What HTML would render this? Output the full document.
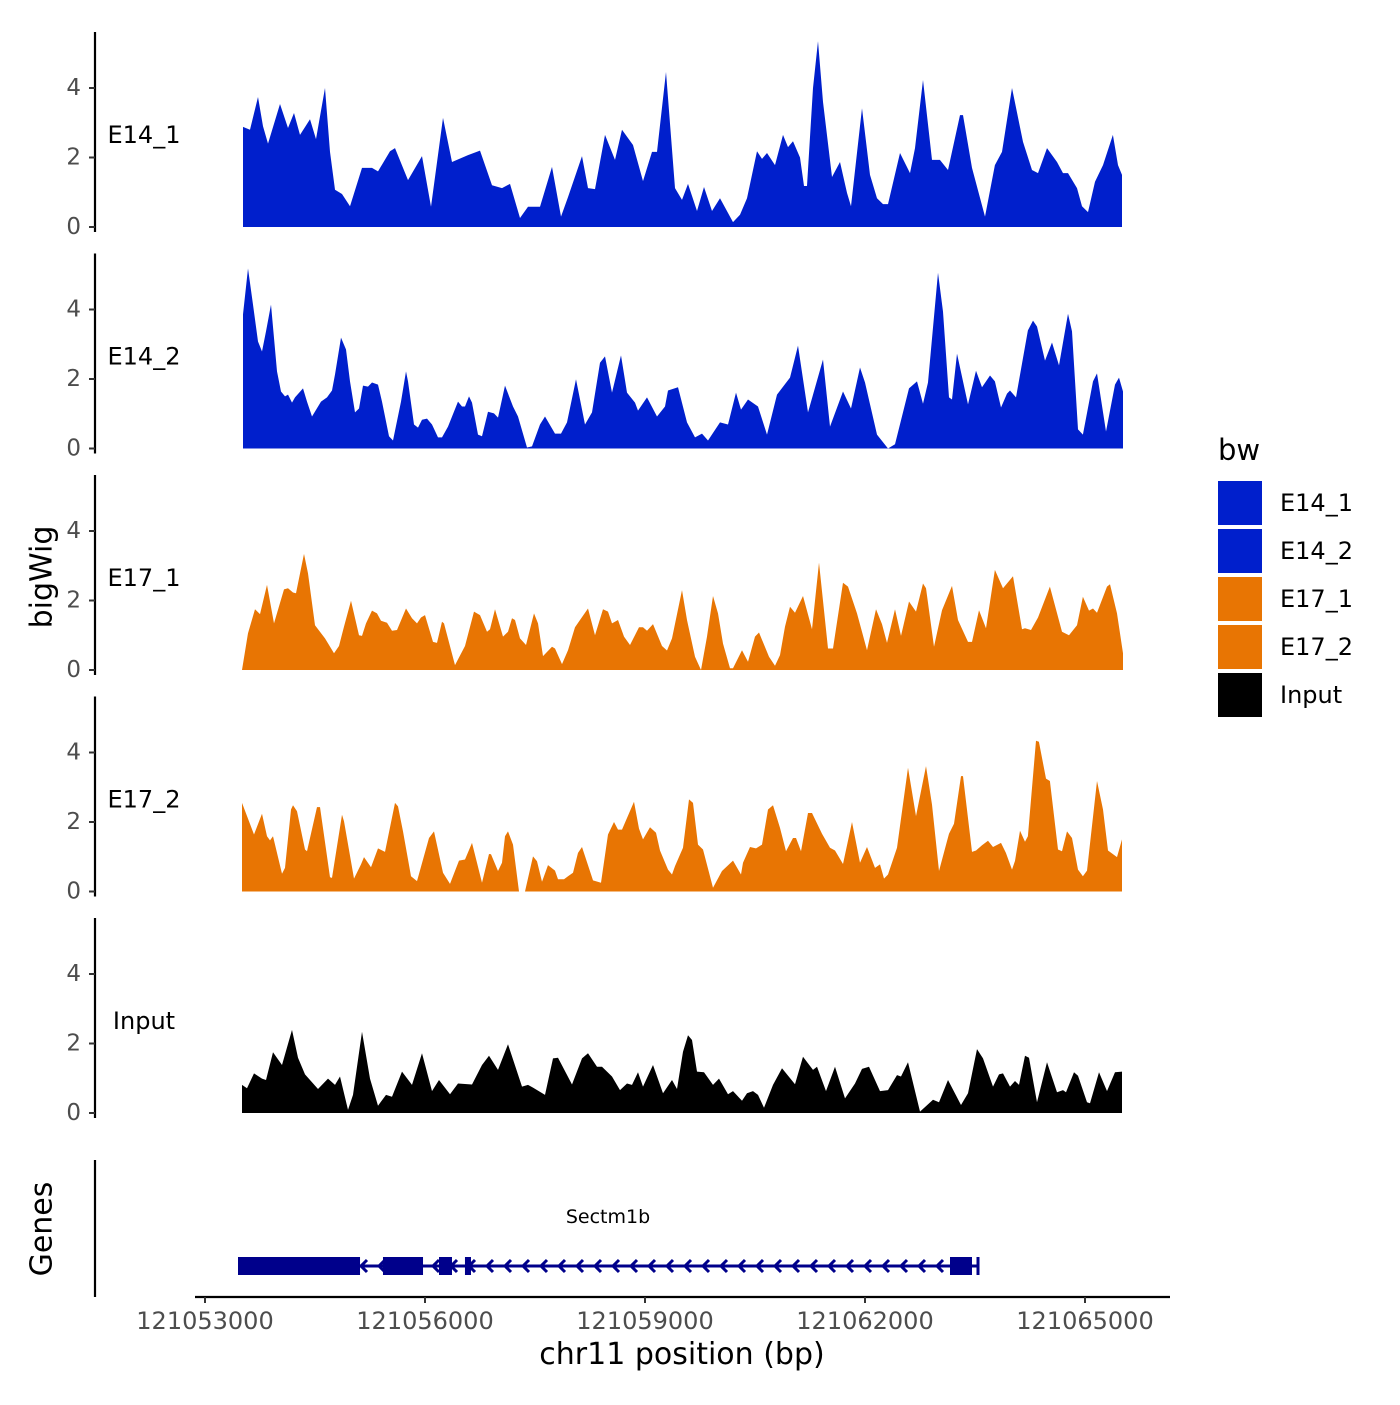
<!DOCTYPE html>
<html><head><meta charset="utf-8">
<style>
html,body{margin:0;padding:0;background:#fff;}
svg text{font-family:"DejaVu Sans","Liberation Sans",sans-serif;}
</style></head>
<body>
<svg id="chart" width="1400" height="1400" viewBox="0 0 1400 1400" xmlns="http://www.w3.org/2000/svg">
<rect width="1400" height="1400" fill="#fff"/>
<g id="tracks"></g>
<g id="genes"></g>
<g id="xaxis"></g>
<text x="42" y="577" font-size="30" text-anchor="middle" dominant-baseline="central" transform="rotate(-90 42 577)">bigWig</text>
<text x="42" y="1229" font-size="30" text-anchor="middle" dominant-baseline="central" transform="rotate(-90 42 1229)">Genes</text>
<text x="682" y="1364" font-size="30" text-anchor="middle">chr11 position (bp)</text>
<g id="legend">
<text x="1218" y="460" font-size="29">bw</text>
</g>
</svg>
<script>
const regionStart = 121053000;
const trackNames = ["E14_1","E14_2","E17_1","E17_2","Input"];
const trackColors = ["#001FCC","#001FCC","#E87503","#E87503","#000000"];
const xTicks = [121053000,121056000,121059000,121062000,121065000];
const yTicks = [0,2,4];

const pos1 = [518,614,723,791,859,1023,1132,1214,1295,1432,1514,1636,1705,1773,1868,1977,2141,2277,2359,2523,2591,2768,2959,3082,3245,3368,3586,3750,3914,4050,4159,4295,4404,4568,4732,4854,4950,5141,5223,5318,5454,5591,5686,5836,5973,6095,6164,6286,6409,6504,6586,6709,6804,6913,7023,7200,7295,7391,7527,7595,7664,7773,7882,7950,8018,8114,8168,8209,8291,8359,8427,8550,8659,8754,8809,8959,9068,9163,9245,9313,9477,9613,9682,9791,9913,10022,10132,10295,10336,10459,10636,10772,10868,11004,11154,11277,11359,11482,11618,11700,11768,11891,11959,12041,12136,12245,12381,12450,12504];
const val1 = [2.88,2.8,3.74,2.9,2.4,3.54,2.85,3.28,2.65,3.1,2.53,4.0,2.16,1.07,0.95,0.6,1.7,1.7,1.6,2.18,2.27,1.35,2.04,0.58,3.14,1.87,2.07,2.2,1.2,1.12,1.24,0.26,0.58,0.58,1.73,0.3,0.86,2.04,1.12,1.09,2.65,1.93,2.8,2.36,1.32,2.16,2.16,4.46,1.12,0.78,1.24,0.46,1.15,0.46,0.83,0.14,0.35,0.83,2.18,1.96,2.13,1.78,2.65,2.3,2.47,2.0,1.18,1.18,4.0,5.35,3.6,1.44,1.87,0.98,0.6,3.42,1.5,0.83,0.66,0.66,2.13,1.55,2.27,4.23,1.93,1.93,1.64,3.22,3.22,1.7,0.3,1.78,2.16,4.0,2.45,1.64,1.55,2.27,1.87,1.55,1.55,1.12,0.6,0.43,1.3,1.78,2.65,1.78,1.5];

const pos2 = [518,586,655,723,777,832,900,982,1036,1091,1132,1186,1227,1336,1391,1459,1582,1664,1732,1773,1855,1923,1977,2045,2100,2155,2223,2277,2359,2414,2509,2564,2673,2741,2768,2850,2905,2959,3027,3095,3177,3232,3314,3450,3505,3545,3600,3641,3723,3777,3859,3941,3995,4091,4200,4268,4391,4459,4568,4636,4773,4854,4936,5059,5182,5277,5386,5454,5550,5673,5754,5864,5904,6027,6164,6273,6313,6450,6573,6682,6777,6859,7023,7132,7241,7309,7404,7541,7664,7800,7977,8086,8223,8427,8523,8700,8809,8932,9000,9163,9313,9409,9600,9709,9791,9859,9995,10063,10145,10186,10254,10404,10513,10595,10704,10772,10854,10936,10977,11059,11222,11291,11345,11454,11550,11645,11768,11823,11904,11972,12109,12163,12286,12409,12463,12518];
const val2 = [3.86,5.18,4.14,3.08,2.79,3.37,4.14,2.22,1.64,1.5,1.55,1.32,1.47,1.73,1.35,0.92,1.35,1.47,1.67,2.13,3.19,2.85,1.93,1.04,1.15,1.81,1.78,1.9,1.84,1.35,0.35,0.23,1.35,2.22,1.93,0.69,0.6,0.83,0.86,0.69,0.32,0.32,0.63,1.35,1.21,1.21,1.5,1.32,0.4,0.35,1.06,1.01,0.89,1.81,1.21,0.92,0.03,0.06,0.69,0.92,0.43,0.43,0.75,1.99,0.69,1.04,2.47,2.65,1.61,2.68,1.61,1.32,1.09,1.47,0.92,1.21,1.67,1.76,0.75,0.32,0.43,0.23,0.75,0.69,1.61,1.12,1.41,1.21,0.4,1.55,2.04,2.96,1.04,2.56,0.63,1.64,1.15,2.33,1.9,0.4,0,0.12,1.73,1.93,1.29,1.9,5.06,3.94,1.47,1.41,2.73,1.27,2.24,1.76,2.1,1.93,1.18,1.58,1.67,1.47,3.4,3.68,3.51,2.53,3.05,2.39,3.88,3.37,0.55,0.4,1.93,2.16,0.49,1.84,2.04,1.64];

const pos3 = [505,586,682,750,845,941,1077,1132,1200,1241,1350,1405,1500,1636,1759,1827,1895,1991,2100,2141,2195,2277,2345,2400,2482,2550,2618,2741,2823,2891,2945,3000,3109,3164,3232,3259,3409,3545,3668,3750,3845,3886,3954,4064,4132,4186,4227,4295,4377,4486,4541,4609,4732,4773,4868,4950,5045,5114,5223,5318,5427,5495,5550,5632,5714,5795,5918,5973,6027,6109,6232,6300,6368,6504,6573,6682,6763,6845,6927,6995,7063,7159,7200,7323,7404,7500,7554,7691,7773,7841,7909,7977,8045,8154,8277,8373,8495,8563,8700,8768,8891,9027,9150,9232,9300,9409,9491,9600,9695,9791,9832,9941,10050,10186,10268,10404,10459,10554,10650,10772,10882,11018,11141,11182,11263,11359,11522,11686,11782,11891,11972,12054,12109,12163,12300,12341,12436,12518];
const val3 = [0,1.06,1.75,1.61,2.45,1.34,2.32,2.35,2.23,2.21,3.34,2.78,1.29,0.91,0.48,0.69,1.25,1.99,1.0,0.98,1.34,1.71,1.63,1.42,1.36,1.13,1.15,1.77,1.49,1.34,1.51,1.58,0.81,0.78,1.39,1.34,0.14,0.69,1.68,1.58,1.1,1.17,1.75,0.96,1.1,1.49,1.44,0.91,0.72,1.63,1.34,0.4,0.67,0.62,0.17,0.57,1.23,1.44,1.77,1.0,1.75,1.68,1.34,1.44,0.96,0.72,1.23,1.23,1.13,1.32,0.69,0.56,0.91,2.3,1.44,0.38,0,0.96,2.13,1.63,0.76,0.05,0.05,0.57,0.24,0.96,1.08,0.38,0.12,0.43,1.25,1.82,1.65,2.13,1.17,3.09,0.62,0.62,2.51,2.4,1.63,0.57,1.75,1.32,0.78,1.75,0.98,1.97,1.68,2.49,2.35,0.67,1.72,2.42,1.44,0.81,0.81,1.72,1.2,2.88,2.35,2.7,1.17,1.2,1.15,1.51,2.4,1.1,1.0,1.29,2.11,1.71,1.77,1.65,2.4,2.47,1.63,0.48];

const pos4 = [505,668,777,845,886,927,1050,1091,1173,1200,1255,1364,1391,1527,1568,1705,1732,1868,1895,2032,2127,2168,2264,2359,2455,2591,2632,2700,2809,2891,3055,3123,3245,3341,3464,3545,3641,3777,3873,3900,3995,4050,4091,4132,4200,4282,4364,4473,4527,4595,4677,4773,4814,4895,4950,5018,5086,5141,5291,5400,5495,5577,5632,5686,5850,5918,5973,6068,6150,6204,6313,6368,6409,6518,6600,6654,6723,6791,6927,7050,7200,7309,7336,7432,7513,7595,7677,7745,7841,7923,8018,8059,8127,8223,8277,8414,8523,8591,8700,8823,8932,9027,9136,9204,9259,9313,9436,9586,9695,9832,9913,10009,10118,10145,10213,10309,10336,10459,10513,10595,10677,10745,10854,10922,11004,11045,11113,11182,11222,11332,11372,11468,11522,11632,11686,11754,11823,11904,11972,12027,12163,12245,12314,12436,12504];
const val4 = [2.55,1.64,2.24,1.59,1.47,1.59,0.51,0.68,2.36,2.48,2.31,1.21,1.16,2.43,2.43,0.41,0.39,2.21,2.02,0.37,0.78,0.99,0.7,1.24,1.14,2.55,2.45,1.73,0.44,0.3,1.54,1.73,0.54,0.22,0.89,0.92,1.4,0.25,1.08,1.07,0.59,0.83,1.59,1.73,1.35,0,0,1.01,0.87,0.28,0.76,0.6,0.35,0.35,0.44,0.54,1.11,1.28,0.32,0.25,1.64,2.0,1.78,1.78,2.58,1.81,1.5,1.85,1.69,1.18,0.63,0.49,0.73,1.26,2.65,2.55,1.35,1.21,0.11,0.59,0.89,0.49,0.83,1.28,1.24,1.35,2.36,2.48,1.83,1.16,1.54,1.54,1.16,2.26,2.26,1.66,1.26,1.18,0.79,2.0,0.83,1.28,0.68,0.78,0.37,0.49,1.26,3.56,2.17,3.61,2.5,0.59,1.45,1.66,1.95,3.32,3.32,1.14,1.18,1.33,1.46,1.28,1.4,1.11,0.63,0.88,1.75,1.43,1.59,4.34,4.31,3.25,3.18,1.21,1.16,1.73,1.54,0.63,0.44,0.6,3.18,2.36,1.18,0.99,1.5];

const pos5 = [505,573,668,777,832,927,1050,1186,1268,1364,1541,1677,1773,1841,1950,2018,2141,2250,2359,2468,2550,2686,2823,2959,3095,3191,3341,3450,3641,3777,3873,3995,4132,4323,4404,4473,4636,4745,4814,5005,5141,5223,5345,5414,5550,5659,5754,5823,5904,5973,6109,6245,6368,6436,6518,6586,6641,6709,6804,6927,7009,7132,7200,7323,7391,7473,7541,7623,7745,7868,8045,8154,8291,8345,8468,8591,8727,8863,8959,9054,9204,9313,9436,9491,9586,9750,9927,10009,10132,10309,10404,10527,10609,10745,10827,10882,10977,11045,11100,11182,11236,11345,11482,11618,11700,11741,11850,11904,12027,12068,12191,12300,12409,12504];
const val5 = [0.81,0.71,1.14,0.99,0.95,1.75,1.38,2.39,1.59,1.11,0.69,0.99,0.81,1.05,0.09,0.52,2.34,0.99,0.21,0.52,0.47,1.19,0.81,1.72,0.63,0.95,0.54,0.85,0.82,1.38,1.65,1.24,1.98,0.76,0.81,0.73,0.52,1.57,1.59,0.82,1.57,1.72,1.33,1.33,1.05,0.66,0.85,0.81,1.17,0.76,1.38,0.57,0.95,0.69,1.76,2.24,2.1,1.19,1.17,0.81,0.99,0.54,0.63,0.35,0.57,0.63,0.52,0.15,0.81,1.29,0.83,1.62,1.24,1.33,0.63,1.33,0.42,0.85,1.27,1.33,0.63,0.66,1.09,1.05,1.46,0.04,0.38,0.31,0.95,0.23,0.57,1.84,1.57,0.76,1.11,1.14,0.76,0.92,0.81,1.65,1.59,0.31,1.46,0.6,0.66,0.6,1.17,1.07,0.31,0.28,1.17,0.63,1.17,1.19];

const trackPositions = [pos1,pos2,pos3,pos4,pos5];
const trackValues = [val1,val2,val3,val4,val5];

const geneName = "Sectm1b";
const geneStart = 121053450, geneEnd = 121063541;
const exonStarts = [121053450,121055427,121056191,121056545,121063159];
const exonEnds   = [121055114,121055973,121056368,121056627,121063459];

const NS = "http://www.w3.org/2000/svg";
function xs(bp){ return 205 + (bp - 121053000) * 880 / 12000; }
function panelBase(i){ return 227 + i * 221.5; }
function ys(i, v){ return panelBase(i) - v * 34.75; }
function mk(tag, attrs, parent){
  const e = document.createElementNS(NS, tag);
  for (const k in attrs) e.setAttribute(k, attrs[k]);
  parent.appendChild(e);
  return e;
}

const tracks = document.getElementById('tracks');
trackNames.forEach((name, i) => {
  const g = mk('g', {}, tracks);
  
  
  const b = panelBase(i);
  const ax = mk('line', {x1:95, x2:95, y1:b-195, y2:b+5, stroke:'#000', 'stroke-width':2.2}, g);
  
  
  yTicks.forEach(t => {
    const y = ys(i, t);
    const tk = mk('line', {x1:89, x2:95, y1:y, y2:y, stroke:'#333', 'stroke-width':2}, g);
    
    
    const tl = mk('text', {x:81, y:y, 'font-size':23, fill:'#4d4d4d', 'text-anchor':'end', 'dominant-baseline':'central'}, g);
    tl.textContent = t;
    
    
  });
  const lab = mk('text', {x:144, y:b-92, 'font-size':24, 'text-anchor':'middle', 'dominant-baseline':'central'}, g);
  lab.textContent = name;
  
  
  const P = trackPositions[i], V = trackValues[i];
  let d = 'M' + xs(regionStart + P[0]).toFixed(1) + ',' + b;
  for (let k = 0; k < P.length; k++) d += 'L' + xs(regionStart + P[k]).toFixed(1) + ',' + ys(i, V[k]).toFixed(1);
  d += 'L' + xs(regionStart + P[P.length-1]).toFixed(1) + ',' + b + 'Z';
  const area = mk('path', {d:d, fill:trackColors[i]}, g);
  
  
});

// genes track
const gg = document.getElementById('genes');
const gax = mk('line', {x1:95, x2:95, y1:1160, y2:1297, stroke:'#000', 'stroke-width':2.2}, gg);


const gy = 1266;
const gl = mk('line', {x1:xs(geneStart), x2:xs(geneEnd), y1:gy, y2:gy, stroke:'#00008B', 'stroke-width':3}, gg);


for (let x = xs(geneStart) + 125; x < xs(geneEnd) - 30; x += 18) {
  const c = mk('path', {d:'M'+(x+4)+','+(gy-6)+'L'+(x-2)+','+gy+'L'+(x+4)+','+(gy+6), fill:'none', stroke:'#00008B', 'stroke-width':3}, gg);
  
  
}
exonStarts.forEach((s, k) => {
  const r = mk('rect', {x:xs(s), y:gy-9, width:xs(exonEnds[k]) - xs(s), height:18, fill:'#00008B'}, gg);
  
  
});
const endTick = mk('line', {x1:xs(geneEnd), x2:xs(geneEnd), y1:gy-9, y2:gy+9, stroke:'#00008B', 'stroke-width':3}, gg);


const gn = mk('text', {x:608, y:1223, 'font-size':19, 'text-anchor':'middle'}, gg);
gn.textContent = geneName;



// x axis
const xa = document.getElementById('xaxis');
const xl = mk('line', {x1:195, x2:1170, y1:1297, y2:1297, stroke:'#000', 'stroke-width':2.2}, xa);


xTicks.forEach(t => {
  const x = xs(t);
  const tk = mk('line', {x1:x, x2:x, y1:1297, y2:1303, stroke:'#333', 'stroke-width':2}, xa);
  
  
  const tl = mk('text', {x:x, y:1329, 'font-size':24, fill:'#4d4d4d', 'text-anchor':'middle'}, xa);
  tl.textContent = t;
  
  
});

// legend
const lg = document.getElementById('legend');
trackNames.forEach((name, i) => {
  const y = 481 + i * 48;
  const r = mk('rect', {x:1218, y:y, width:44, height:44, fill:trackColors[i]}, lg);
  
  
  const t = mk('text', {x:1280, y:y+22, 'font-size':24, 'dominant-baseline':'central'}, lg);
  t.textContent = name;
  
  
});
</script>
</body></html>
